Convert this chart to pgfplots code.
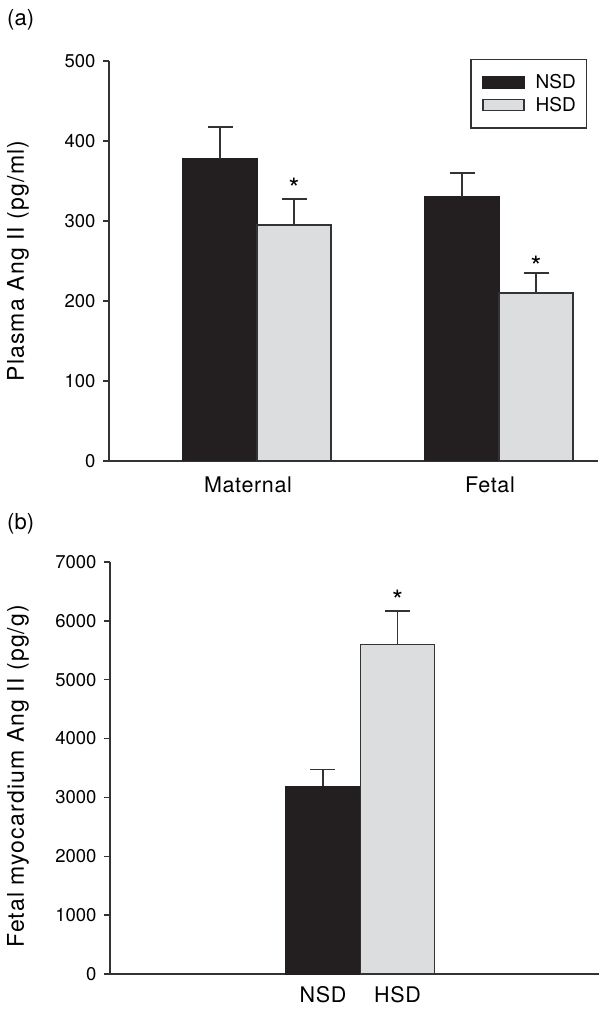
\documentclass[border=0pt]{standalone}
\usepackage{fontspec}
\setmainfont{TeX Gyre Heros}
\usepackage{pgfplots}
\pgfplotsset{compat=1.18}
\definecolor{barblack}{HTML}{231F20}
\definecolor{bargray}{HTML}{DCDDDF}
\definecolor{axcol}{HTML}{333333}
\pgfplotsset{
  mystyle/.style={
    scale only axis,
    width=489pt,
    axis x line*=bottom, axis y line*=left,
    axis line style={axcol, line width=1.3pt},
    ymin=0,
    ytick style={axcol, line width=1.3pt},
    tick align=outside,
    major tick length=6pt,
    xtick style={draw=none},
    /pgf/number format/assume math mode=true,
    /pgf/number format/1000 sep={},
    scaled y ticks=false,
    yticklabel style={font=\fontsize{18.5}{20}\selectfont, xshift=-4pt},
    xticklabel style={font=\addfontfeatures{LetterSpace=3}\fontsize{21.5}{24}\selectfont},
    error bars/y dir=plus, error bars/y explicit,
    error bars/error bar style={axcol, line width=1.3pt},
    error bars/error mark options={axcol, line width=1.3pt, mark size=12.5pt, rotate=90},
  },
}
\begin{document}
\begin{tikzpicture}[x=1pt,y=1pt]
\path[use as bounding box] (0,0) rectangle (609,1012);
\node[anchor=north west, inner sep=0pt, font=\fontsize{22}{24}\selectfont] at (7,1003) {(a)};
\node[anchor=north west, inner sep=0pt, font=\fontsize{22}{24}\selectfont] at (7,499) {(b)};
% Panel (a)
\begin{axis}[mystyle,
  at={(109pt,551pt)}, anchor=south west,
  height=400pt,
  ymax=500, ytick={0,100,200,300,400,500},
  xmin=-0.6116, xmax=1.409,
  xtick={0,1}, xticklabels={Maternal,Fetal},
  xticklabel style={xshift=-9pt, yshift=-6pt},
  ybar, bar width=0.3058,
  ylabel={Plasma Ang II (pg/ml)},
  every axis y label/.style={at={(axis description cs:-0.186,0.5)}, rotate=90, anchor=center,
    font=\addfontfeatures{LetterSpace=5}\fontsize{23}{26}\selectfont},
  legend style={at={(0.9775,1.005)}, anchor=north east, draw=axcol, line width=1.3pt,
    font=\fontsize{19}{21}\selectfont, inner xsep=7.5pt, inner ysep=12pt, row sep=1pt,
    nodes={inner sep=3pt}},
  legend cell align=left,
]
\addlegendimage{legend image code/.code={\path (-4pt,0pt) (49pt,0pt); \draw[fill=barblack, draw=barblack, line width=1.3pt] (0pt,-6pt) rectangle (41pt,6pt);}}
\addlegendentry{NSD}
\addlegendimage{legend image code/.code={\path (-4pt,0pt) (49pt,0pt); \draw[fill=bargray, draw=axcol, line width=1.3pt] (0pt,-5.5pt) rectangle (41pt,5.5pt);}}
\addlegendentry{HSD}
\addplot[forget plot, fill=barblack, draw=barblack, line width=1.3pt, bar shift=-0.1529]
  coordinates {(0,378) +- (0,39.5) (1,330) +- (0,30)};
\addplot[forget plot, fill=bargray, draw=axcol, line width=1.3pt, bar shift=0.1529]
  coordinates {(0,295) +- (0,32.5) (1,210) +- (0,25)};
\node[anchor=base, inner sep=0pt, font=\fontsize{28}{30}\selectfont] at (axis cs:0.1529,328) {*};
\node[anchor=base, inner sep=0pt, font=\fontsize{28}{30}\selectfont] at (axis cs:1.1529,231) {*};
\end{axis}
% Panel (b)
\begin{axis}[mystyle,
  at={(110pt,38pt)}, anchor=south west,
  height=412pt,
  ymax=7000, ytick={0,1000,2000,3000,4000,5000,6000,7000},
  xmin=-2.859, xmax=3.705,
  xtick={0,1}, xticklabels={NSD,HSD},
  xticklabel style={yshift=-3pt},
  ybar, bar width=1,
  ylabel={Fetal myocardium Ang II (pg/g)},
  every axis y label/.style={at={(axis description cs:-0.188,0.48)}, rotate=90, anchor=center,
    font=\addfontfeatures{LetterSpace=5}\fontsize{23}{26}\selectfont},
]
\addplot[fill=barblack, draw=barblack, line width=1.3pt, bar shift=0]
  coordinates {(0,3190) +- (0,290)};
\addplot[fill=bargray, draw=axcol, line width=1.3pt, bar shift=0]
  coordinates {(1,5600) +- (0,570)};
\node[anchor=base, inner sep=0pt, font=\fontsize{28}{30}\selectfont] at (axis cs:1,6180) {*};
\end{axis}
\end{tikzpicture}
\end{document}
